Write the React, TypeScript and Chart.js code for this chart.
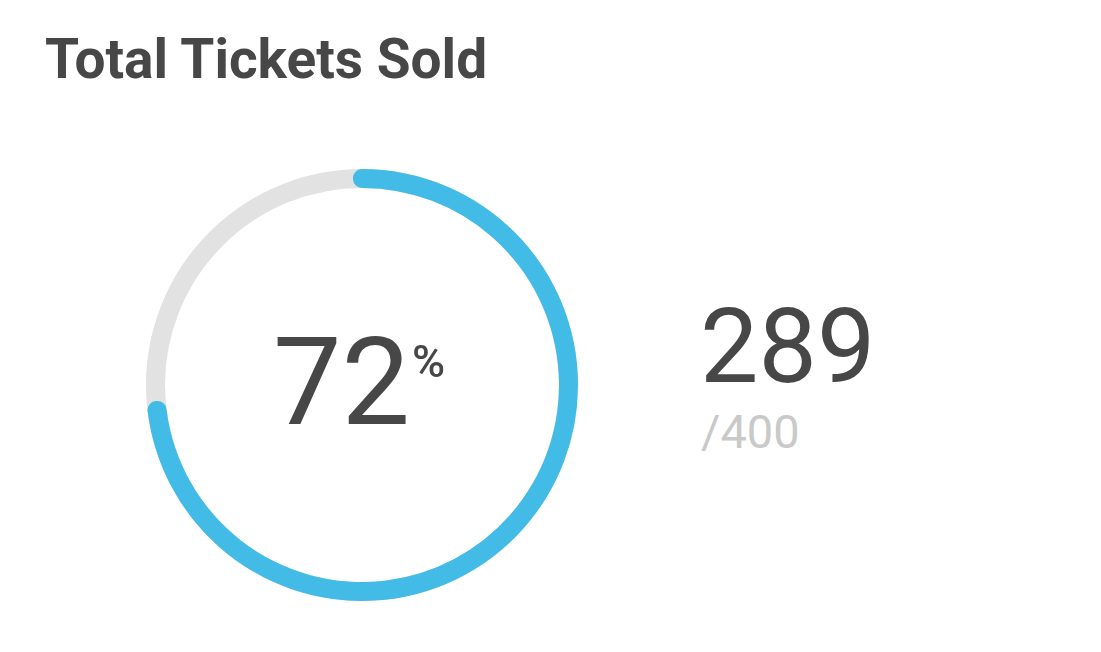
import React, { useEffect, useRef } from "react";
import { Chart, registerables } from "chart.js";

Chart.register(...registerables);

const title = "Total Tickets Sold";
const sliceLabels = ["Sold", "Remaining"];
const sliceValues = [289, 111];
const totalTickets = [400];
const sliceColors = ["#42bce6", "rgba(0,0,0,0)"];
const trackColor = "#e2e2e2";

const FONT = "Roboto, 'Noto Sans', sans-serif";
const TEXT = "#474747";

const trackPlugin = {
  id: "track",
  beforeDatasetsDraw(chart: any) {
    const meta = chart.getDatasetMeta(0);
    const arc = meta.data[0];
    if (!arc) return;
    const { x, y, innerRadius, outerRadius } = arc.getProps(
      ["x", "y", "innerRadius", "outerRadius"],
      true
    );
    const ctx = chart.ctx;
    ctx.save();
    ctx.beginPath();
    ctx.arc(x, y, (innerRadius + outerRadius) / 2, 0, Math.PI * 2);
    ctx.lineWidth = outerRadius - innerRadius;
    ctx.strokeStyle = trackColor;
    ctx.stroke();
    ctx.restore();
  },
};

export default function App() {
  const ref = useRef<HTMLCanvasElement>(null);

  useEffect(() => {
    if (!ref.current) return;
    const chart = new Chart(ref.current, {
      type: "doughnut",
      data: {
        labels: sliceLabels,
        datasets: [
          {
            data: sliceValues,
            backgroundColor: sliceColors,
            borderWidth: 0,
            borderRadius: [9, 0] as any,
          },
        ],
      },
      options: {
        animation: false,
        responsive: false,
        maintainAspectRatio: false,
        cutout: 197,
        rotation: -2.5,
        circumference: 371,
        layout: { padding: 0 },
        plugins: {
          legend: { display: false },
          tooltip: { enabled: false },
          title: { display: false },
        },
      },
      plugins: [trackPlugin],
    });
    return () => chart.destroy();
  }, []);

  const sold = sliceValues[0];
  const total = totalTickets[0];
  const pct = Math.round((sold / total) * 100);

  const abs = (left: number, top: number, size: number, weight: number, color: string): React.CSSProperties => ({
    position: "absolute",
    left,
    top,
    fontSize: size,
    fontWeight: weight,
    color,
    fontFamily: FONT,
    lineHeight: 1,
    whiteSpace: "nowrap",
  });

  return (
    <div style={{ position: "absolute", left: 0, top: 0, width: 1101, height: 652, background: "#fff", overflow: "hidden" }}>
      <div style={abs(45, 32, 55, 700, TEXT)}>{title}</div>
      <canvas
        ref={ref}
        width={432}
        height={432}
        style={{ position: "absolute", left: 146, top: 169, width: 432, height: 432 }}
      />
      <div style={abs(273, 322, 122, 400, TEXT)}>{pct}</div>
      <div style={abs(412, 339, 45, 500, TEXT)}>%</div>
      <div style={abs(700, 295, 104, 400, TEXT)}>{sold}</div>
      <div style={abs(701, 408, 47, 400, "#c9c9c9")}>/{total}</div>
    </div>
  );
}
